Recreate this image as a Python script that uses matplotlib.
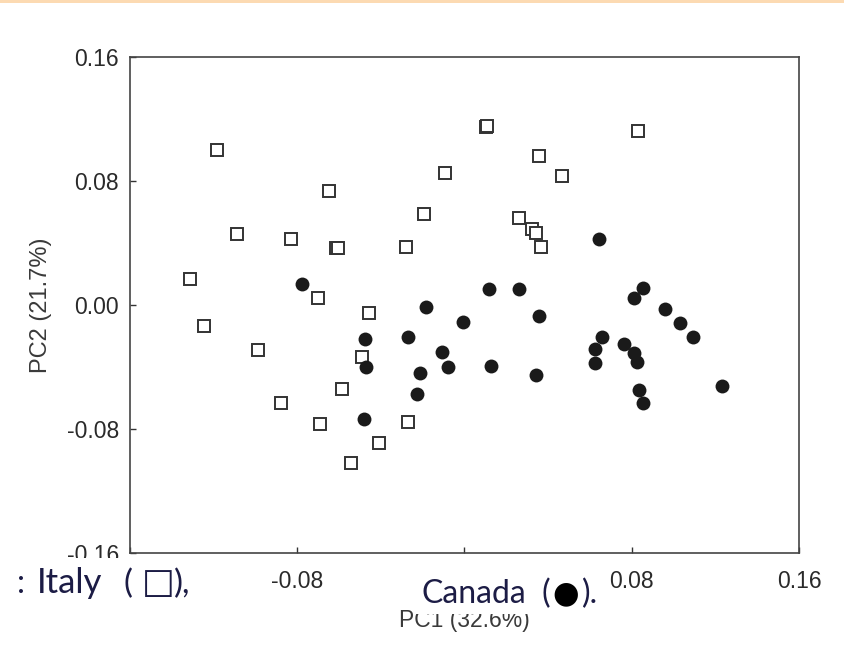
import matplotlib
matplotlib.use('Agg')
import matplotlib.pyplot as plt
from matplotlib.patches import Rectangle

plt.rcParams['font.family'] = ['Liberation Sans', 'DejaVu Sans']
plt.rcParams['axes.unicode_minus'] = False

# PCA scores, Italy samples (open squares)
italy_pc1 = [0.0105, 0.0110, 0.0828, -0.1182, 0.0354, -0.0091, 0.0464, -0.0646,
             -0.0196, 0.0263, 0.0321, 0.0344, -0.1086, -0.0828, -0.0617, -0.0603,
             -0.0278, 0.0364, -0.1311, -0.0703, -0.0455, -0.1244, -0.0990, -0.0488,
             -0.0584, -0.0876, -0.0689, -0.0268, -0.0407, -0.0545]
italy_pc2 = [0.1148, 0.1155, 0.1123, 0.1000, 0.0961, 0.0852, 0.0832, 0.0735,
             0.0587, 0.0561, 0.0490, 0.0465, 0.0458, 0.0426, 0.0368, 0.0368,
             0.0374, 0.0374, 0.0168, 0.0045, -0.0052, -0.0135, -0.0290, -0.0335,
             -0.0542, -0.0632, -0.0768, -0.0755, -0.0890, -0.1019]

# PCA scores, Canada samples (filled circles)
canada_pc1 = [0.0641, -0.0775, 0.0115, 0.0263, 0.0856, 0.0813, -0.0182, 0.0957,
              -0.0005, 0.0354, 0.1029, 0.1091, -0.0474, -0.0268, 0.0656, 0.0761,
              -0.0110, 0.0622, 0.0813, 0.0823, 0.0622, -0.0469, -0.0077, -0.0211,
              0.0129, 0.0340, -0.0225, 0.1230, 0.0833, 0.0856, -0.0483]
canada_pc2 = [0.0426, 0.0135, 0.0103, 0.0103, 0.0110, 0.0045, -0.0013, -0.0026,
              -0.0110, -0.0071, -0.0116, -0.0206, -0.0219, -0.0206, -0.0206, -0.0252,
              -0.0303, -0.0284, -0.0310, -0.0368, -0.0374, -0.0400, -0.0400, -0.0439,
              -0.0394, -0.0452, -0.0574, -0.0523, -0.0548, -0.0632, -0.0735]

ticks = [-0.16, -0.08, 0.0, 0.08, 0.16]
tick_labels = ['-0.16', '-0.08', '0.00', '0.08', '0.16']

fig = plt.figure(figsize=(8.45, 6.46), dpi=100)
ax = fig.add_axes([130 / 845, 1 - 553 / 646, 669 / 845, 496 / 646])

ax.plot(italy_pc1, italy_pc2, 's', ms=8.6, mfc='white', mec='#333333', mew=1.4, zorder=3)
ax.plot(canada_pc1, canada_pc2, 'o', ms=10, mfc='#1a1a1a', mec='#1a1a1a', mew=0, zorder=3)

ax.set_xlim(-0.16, 0.16)
ax.set_ylim(-0.16, 0.16)
ax.set_xticks(ticks)
ax.set_xticklabels(tick_labels)
ax.set_yticks(ticks)
ax.set_yticklabels(tick_labels)
ax.tick_params(direction='in', length=4, width=1, color='#333333',
               labelsize=16.5, labelcolor='#2a2a2a')
ax.tick_params(axis='x', pad=12)
ax.tick_params(axis='y', pad=8)
for s in ax.spines.values():
    s.set_color('#444444')
    s.set_linewidth(1.2)

ax.set_ylabel('PC2 (21.7%)', fontsize=17, color='#3a3a3a')
ax.yaxis.set_label_coords(-0.117, 0.5)
ax.set_xlabel('PC1 (32.6%)', fontsize=16.5, color='#3a3a3a')
ax.xaxis.set_label_coords(0.5, -0.113)

# thin coloured strip across the top
fig.patches.append(Rectangle((0, 1 - 3 / 646), 1, 3 / 646, transform=fig.transFigure,
                             facecolor='#fcdab2', edgecolor='none', zorder=5))

# caption pieces pasted over the lower axis area
fig.patches.append(Rectangle((0, 1 - 605 / 646), 200 / 845, 47 / 646, transform=fig.transFigure,
                             facecolor='white', edgecolor='none', zorder=5))
fig.patches.append(Rectangle((415 / 845, 1 - 614 / 646), 190 / 845, 46 / 646, transform=fig.transFigure,
                             facecolor='white', edgecolor='none', zorder=5))

cap = dict(color='#1c1c45', zorder=6, va='baseline')
word_font = ['Lato', 'DejaVu Sans']
sym_font = ['DejaVu Sans']
y_it = 1 - 593 / 646
y_ca = 1 - 603 / 646
fig.text(17 / 845, y_it, ':', fontsize=23, family=word_font, ha='left', **cap)
fig.text(37 / 845, y_it, 'Italy', fontsize=25, family=word_font, ha='left', **cap)
fig.text(124 / 845, y_it, '(', fontsize=24, family=word_font, ha='left', **cap)
fig.text(158 / 845, y_it, '\u25a1', fontsize=25, family=sym_font, ha='center', **cap)
fig.text(174 / 845, y_it, '),', fontsize=24, family=word_font, ha='left', **cap)
fig.text(422 / 845, y_ca, 'Canada', fontsize=23, family=word_font, ha='left', **cap)
fig.text(542 / 845, y_ca, '(', fontsize=23, family=word_font, ha='left', **cap)
fig.text(566 / 845, y_ca + 1 / 646, '\u25cf', fontsize=22, family=sym_font, ha='center', color='black', zorder=6, va='baseline')
fig.text(582 / 845, y_ca, ').', fontsize=23, family=word_font, ha='left', **cap)

fig.savefig('out.png', dpi=100)
